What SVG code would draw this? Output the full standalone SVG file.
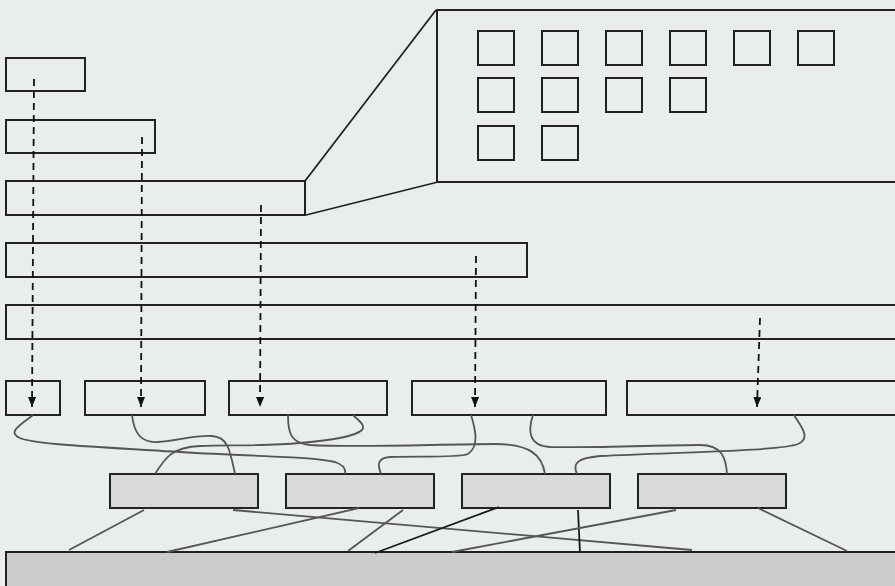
<svg xmlns="http://www.w3.org/2000/svg" width="895" height="586" viewBox="0 0 895 586">
<style>
.bg{fill:#e9edee}
.box{fill:#e9edee;stroke:#222;stroke-width:2}
.sq{fill:none;stroke:#222;stroke-width:2}
.gbox{fill:#d9d9d9;stroke:#222;stroke-width:2}
.bar{fill:#cccccc;stroke:#222;stroke-width:2}
.dash{fill:none;stroke:#111;stroke-width:1.8;stroke-dasharray:7 5}
.wire{fill:none;stroke:#555;stroke-width:1.8}
.dark{fill:none;stroke:#1a1a1a;stroke-width:1.8}
.zoomline{fill:none;stroke:#222;stroke-width:1.8}
</style>
<defs>
<marker id="arr" viewBox="0 0 10 8" markerWidth="10" markerHeight="8" refX="10" refY="4" orient="auto" markerUnits="userSpaceOnUse">
<path d="M0 0 L10 4 L0 8 z" fill="#111"/>
</marker>
</defs>
<rect class="bg" x="0" y="0" width="895" height="586"/>

<g id="layer-rows">
<g id="r1"><rect class="box" x="6" y="58" width="79" height="33"/></g>
<g id="r2"><rect class="box" x="6" y="120" width="149" height="33"/></g>
<g id="r3"><rect class="box" x="6" y="181" width="299" height="34"/></g>
<g id="r4"><rect class="box" x="6" y="243" width="521" height="34"/></g>
<g id="r5"><rect class="box" x="6" y="305" width="900" height="34"/></g>
</g>

<g id="zoom-panel">
<path class="zoomline" d="M305 181 L436 10 M306 215 L438 182"/>
<rect class="box" x="437" y="10" width="470" height="172"/>
<g id="squares">
<rect class="sq" x="478" y="31" width="36" height="34"/>
<rect class="sq" x="542" y="31" width="36" height="34"/>
<rect class="sq" x="606" y="31" width="36" height="34"/>
<rect class="sq" x="670" y="31" width="36" height="34"/>
<rect class="sq" x="734" y="31" width="36" height="34"/>
<rect class="sq" x="798" y="31" width="36" height="34"/>
<rect class="sq" x="478" y="78" width="36" height="34"/>
<rect class="sq" x="542" y="78" width="36" height="34"/>
<rect class="sq" x="606" y="78" width="36" height="34"/>
<rect class="sq" x="670" y="78" width="36" height="34"/>
<rect class="sq" x="478" y="126" width="36" height="34"/>
<rect class="sq" x="542" y="126" width="36" height="34"/>
</g>
</g>

<g id="middle">
<g id="m1"><rect class="box" x="6" y="381" width="54" height="34"/></g>
<g id="m2"><rect class="box" x="85" y="381" width="120" height="34"/></g>
<g id="m3"><rect class="box" x="229" y="381" width="158" height="34"/></g>
<g id="m4"><rect class="box" x="412" y="381" width="194" height="34"/></g>
<g id="m5"><rect class="box" x="627" y="381" width="280" height="34"/></g>
</g>

<g id="gray">
<g id="g1"><rect class="gbox" x="110" y="474" width="148" height="34"/></g>
<g id="g2"><rect class="gbox" x="286" y="474" width="148" height="34"/></g>
<g id="g3"><rect class="gbox" x="462" y="474" width="148" height="34"/></g>
<g id="g4"><rect class="gbox" x="638" y="474" width="148" height="34"/></g>
</g>

<g id="base"><rect class="bar" x="6" y="552" width="900" height="40"/></g>

<g id="connectors">
<g id="dashed">
<path class="dash" d="M34 79 L32 407" marker-end="url(#arr)"/>
<path class="dash" d="M142 137 L141 407" marker-end="url(#arr)"/>
<path class="dash" d="M261 205 L260 407" marker-end="url(#arr)"/>
<path class="dash" d="M476 256 L475 407" marker-end="url(#arr)"/>
<path class="dash" d="M760 318 L757 407" marker-end="url(#arr)"/>
</g>
<g id="wires">
<path class="wire" d="M33 415 C22 424 6 432 20 438 C34 444 80 446 180 452 C260 457 310 456 335 462 C344 465 346 469 345 474"/>
<path class="wire" d="M132 415 C134 432 140 443 158 442 C175 441 195 435 212 436 C228 437 230 450 235 474"/>
<path class="wire" d="M155 474 C165 458 172 447 200 446 C230 445 270 446 300 443 C330 440 355 437 362 430 C366 425 358 420 353 415"/>
<path class="wire" d="M288 415 C288 432 290 443 310 445 C360 448 440 444 495 444 C530 444 542 455 545 474"/>
<path class="wire" d="M471 415 C475 428 480 446 468 454 C458 458 420 456 390 457 C376 458 378 466 381 474"/>
<path class="wire" d="M533 415 C528 430 528 446 550 447 C600 448 660 445 700 445 C722 445 726 458 727 474"/>
<path class="wire" d="M794 415 C800 425 812 438 798 444 C780 451 680 452 600 456 C578 458 572 463 577 474"/>
</g>
<g id="links">
<path class="wire" d="M144 510 L69 550"/>
<path class="wire" d="M233 510 L692 550"/>
<path class="wire" d="M359 508 L167 552"/>
<path class="wire" d="M403 510 L348 551"/>
<path class="dark" d="M499 507 L375 553"/>
<path class="dark" d="M578 510 L580 553"/>
<path class="wire" d="M676 510 L452 552"/>
<path class="wire" d="M758 508 L847 551"/>
</g>
</g>
</svg>
